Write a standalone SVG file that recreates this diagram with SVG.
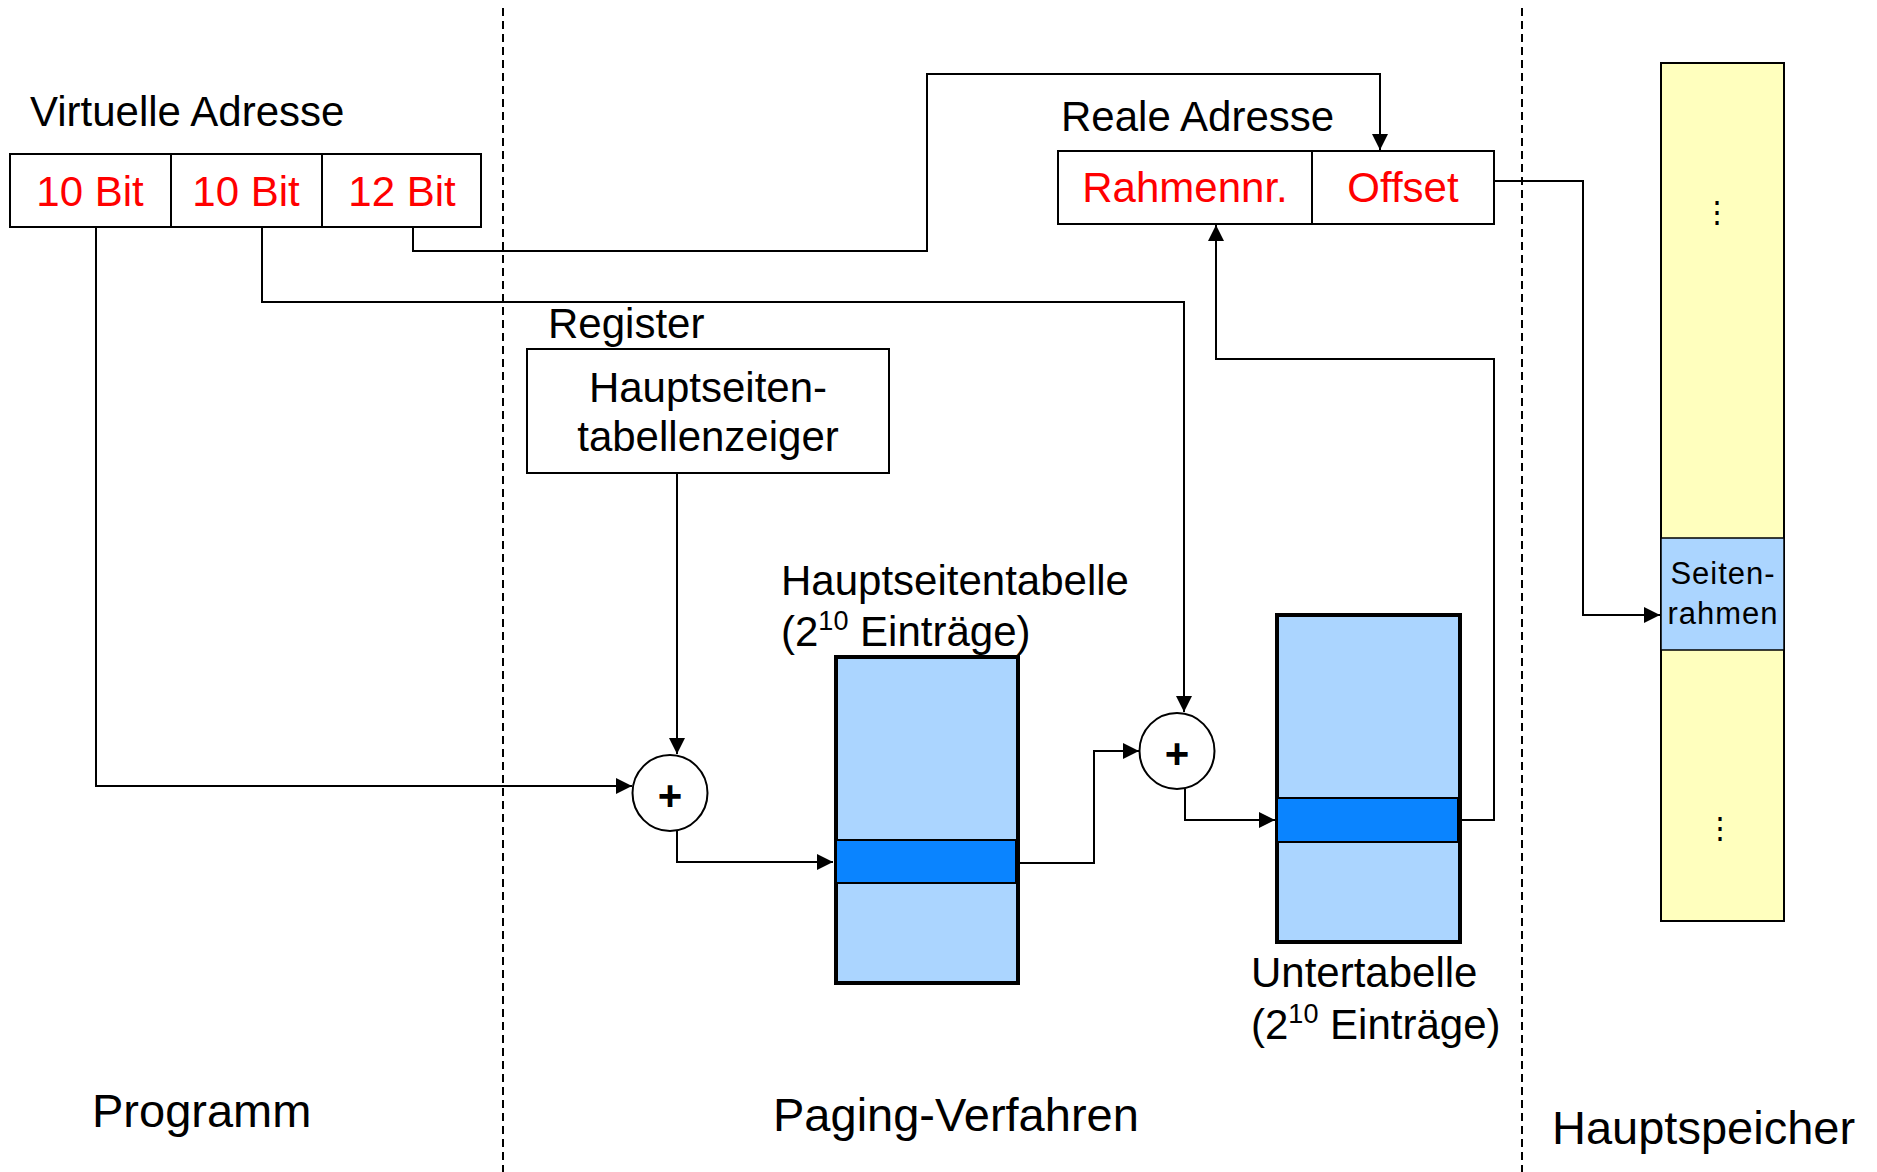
<svg xmlns="http://www.w3.org/2000/svg" width="1877" height="1172" viewBox="0 0 1877 1172">
<style>
text{font-family:"Liberation Sans",Arial,sans-serif;fill:#000}
.t42{font-size:42px}
.t47{font-size:47px}
.red{fill:#ff0000}
.box{fill:#fff;stroke:#000;stroke-width:2}
.conn{fill:none;stroke:#000;stroke-width:2}
.sep{stroke:#000;stroke-width:2;stroke-dasharray:8,5}
.tbl{fill:#abd5ff;stroke:#000;stroke-width:4}
.band{fill:#0a84ff;stroke:#000;stroke-width:2}
.sup{font-size:27px}
</style>
<defs>
<marker id="arr" viewBox="0 0 10 10" refX="10" refY="5" markerWidth="16" markerHeight="16" markerUnits="userSpaceOnUse" orient="auto">
<path d="M0,0 L10,5 L0,10 z" fill="#000"/>
</marker>
</defs>
<rect width="1877" height="1172" fill="#fff"/>

<g id="separators">
<line class="sep" x1="503" y1="8" x2="503" y2="1172"/>
<line class="sep" x1="1522" y1="8" x2="1522" y2="1172"/>
</g>

<g id="virtuelle-adresse">
<text class="t42" x="30" y="126">Virtuelle Adresse</text>
<rect class="box" x="10" y="154" width="471" height="73"/>
<line stroke="#000" stroke-width="2" x1="171" y1="154" x2="171" y2="227"/>
<line stroke="#000" stroke-width="2" x1="322" y1="154" x2="322" y2="227"/>
<text class="t42 red" x="90" y="206" text-anchor="middle">10 Bit</text>
<text class="t42 red" x="246" y="206" text-anchor="middle">10 Bit</text>
<text class="t42 red" x="402" y="206" text-anchor="middle">12 Bit</text>
</g>

<g id="reale-adresse">
<text class="t42" x="1061" y="131">Reale Adresse</text>
<rect class="box" x="1058" y="151" width="436" height="73"/>
<line stroke="#000" stroke-width="2" x1="1312" y1="151" x2="1312" y2="224"/>
<text class="t42 red" x="1185" y="202" text-anchor="middle">Rahmennr.</text>
<text class="t42 red" x="1403" y="202" text-anchor="middle">Offset</text>
</g>

<g id="register">
<text class="t42" x="548" y="338">Register</text>
<rect class="box" x="527" y="349" width="362" height="124"/>
<text class="t42" x="708" y="402" text-anchor="middle">Hauptseiten-</text>
<text class="t42" x="708" y="451" text-anchor="middle">tabellenzeiger</text>
</g>

<g id="adder1">
<ellipse cx="670" cy="793" rx="37.5" ry="38" fill="#fff" stroke="#000" stroke-width="2"/>
<text x="670" y="810" text-anchor="middle" style="font-size:42px;font-weight:bold">+</text>
</g>

<g id="adder2">
<ellipse cx="1177" cy="751" rx="37.5" ry="38" fill="#fff" stroke="#000" stroke-width="2"/>
<text x="1177" y="768" text-anchor="middle" style="font-size:42px;font-weight:bold">+</text>
</g>

<g id="hauptseitentabelle">
<text class="t42" x="781" y="595">Hauptseitentabelle</text>
<text class="t42" x="781" y="646">(2<tspan class="sup" dy="-16">10</tspan><tspan dy="16"> Einträge)</tspan></text>
<rect class="tbl" x="836" y="657" width="182" height="326"/>
<rect class="band" x="836" y="840" width="180" height="43"/>
</g>

<g id="untertabelle">
<rect class="tbl" x="1277" y="615" width="183" height="327"/>
<rect class="band" x="1277" y="798" width="181" height="44"/>
<text class="t42" x="1251" y="987">Untertabelle</text>
<text class="t42" x="1251" y="1039">(2<tspan class="sup" dy="-16">10</tspan><tspan dy="16"> Einträge)</tspan></text>
</g>

<g id="hauptspeicher">
<rect x="1661" y="63" width="123" height="858" fill="#ffffbe" stroke="#000" stroke-width="2"/>
<rect x="1661" y="538" width="123" height="112" fill="#abd5ff" stroke="#000" stroke-width="1.5"/>
<text x="1723" y="584" text-anchor="middle" style="font-size:31px;letter-spacing:1px">Seiten-</text>
<text x="1723" y="624" text-anchor="middle" style="font-size:31px;letter-spacing:1px">rahmen</text>
<text x="1717" y="222" text-anchor="middle" style="font-size:30px">⋮</text>
<text x="1720" y="838" text-anchor="middle" style="font-size:30px">⋮</text>
</g>

<g id="labels">
<text class="t47" x="92" y="1127">Programm</text>
<text class="t47" x="773" y="1131">Paging-Verfahren</text>
<text class="t47" x="1552" y="1144">Hauptspeicher</text>
</g>

<g id="connectors">
<path class="conn" d="M96 227 V786 H632" marker-end="url(#arr)"/>
<path class="conn" d="M262 227 V302 H1184 V712" marker-end="url(#arr)"/>
<path class="conn" d="M413 227 V251 H927 V74 H1380 V150" marker-end="url(#arr)"/>
<path class="conn" d="M677 473 V754" marker-end="url(#arr)"/>
<path class="conn" d="M677 831 V862 H833" marker-end="url(#arr)"/>
<path class="conn" d="M1018 863 H1094 V751 H1139" marker-end="url(#arr)"/>
<path class="conn" d="M1185 789 V820 H1275" marker-end="url(#arr)"/>
<path class="conn" d="M1460 820 H1494 V359 H1216 V225" marker-end="url(#arr)"/>
<path class="conn" d="M1494 181 H1583 V615 H1660" marker-end="url(#arr)"/>
</g>
</svg>
